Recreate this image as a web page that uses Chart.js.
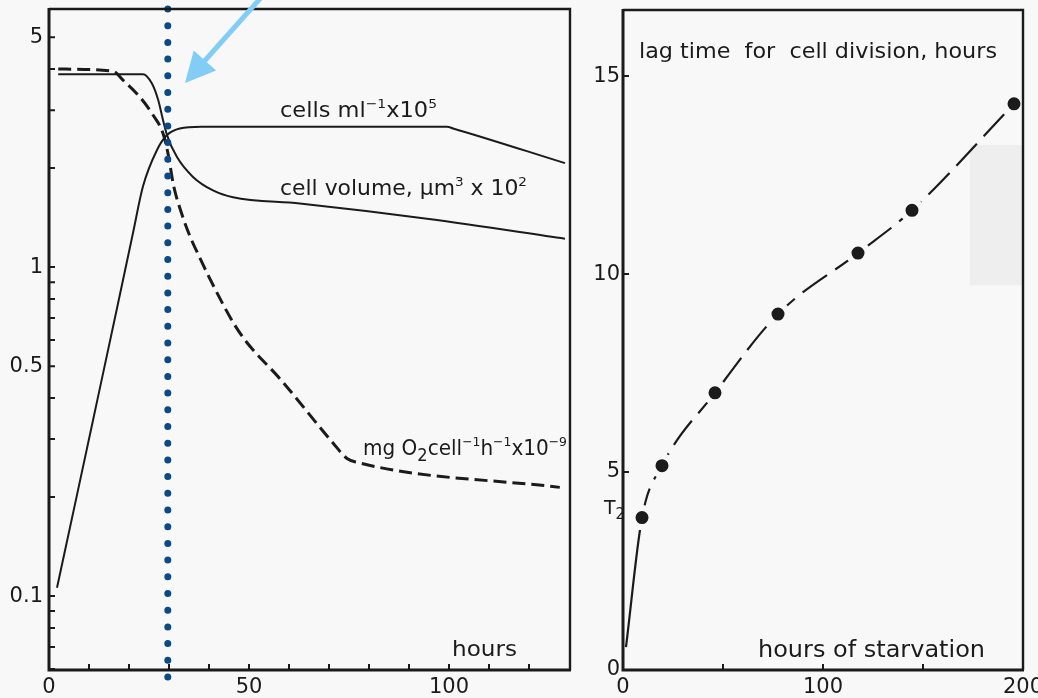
<!DOCTYPE html>
<html><head><meta charset="utf-8">
<script src="https://cdn.jsdelivr.net/npm/chart.js@4.4.1/dist/chart.umd.min.js"></script>
<style>
html,body{margin:0;padding:0;overflow:hidden;background:#f8f8f8;width:1038px;height:698px;}
#left{position:absolute;left:0;top:0;}
#right{position:absolute;left:585px;top:0;}
</style></head><body>
<canvas id="left" width="590" height="698"></canvas>
<canvas id="right" width="493" height="698"></canvas>
<script>
// ===== Left panel data (hours, logarithmic values) =====
const cellsHours   = [2, 7, 12, 17, 21, 23.5, 27, 29.5, 32.7, 38, 99.5, 101, 129];
const cellsValues  = [0.106, 0.203, 0.39, 0.75, 1.27, 1.76, 2.27, 2.52, 2.64, 2.67, 2.67, 2.64, 2.07];
const volumeHours  = [2.3, 23.5, 25.7, 27.3, 28.5, 29.5, 32, 36, 41, 46, 62.7, 95, 129];
const volumeValues = [3.86, 3.86, 3.62, 3.22, 2.8, 2.52, 2.16, 1.88, 1.71, 1.63, 1.56, 1.40, 1.22];
const o2Hours      = [2.3, 16, 18.5, 22.7, 26, 28.5, 29.8, 31.1, 33.2, 35.5, 37.5, 39.5, 46, 49, 58, 71, 74.5, 77, 127.7];
const o2Values     = [4.0, 3.94, 3.7, 3.29, 2.9, 2.55, 2.2, 1.78, 1.45, 1.22, 1.08, 0.96, 0.68, 0.6, 0.454, 0.292, 0.262, 0.255, 0.214];
const markerHour   = 29.7;

// ===== Right panel data =====
const starvationHours = [9.5, 19.5, 46, 77.5, 117.5, 144.5, 195.5];
const lagTimes        = [3.85, 5.16, 7.0, 8.99, 10.53, 11.61, 14.3];
const curveStartHour  = 1.5;
const curveStartLag   = 0.58;

// ===== Axis ranges and ticks =====
const leftXMin = 0, leftXMax = 130.25;
const leftYMin = 0.0596, leftYMax = 6.09;
const leftXTickLabels = [0, 50, 100];
const leftXTickMarks  = [10, 20, 30, 40, 50, 60, 70, 80, 90, 100, 110, 120];
const leftYTickMarks  = [0.06, 0.07, 0.08, 0.09, 0.1, 0.2, 0.3, 0.4, 0.5, 0.6, 0.7, 0.8, 0.9, 1, 2, 3, 4, 5];
const leftYTickLabels = [0.1, 0.5, 1, 5];
const rightXMin = 0, rightXMax = 200;
const rightYMin = 0, rightYMax = 16.67;
const rightXTickLabels = [0, 100, 200];
const rightXTickMarks  = [50, 100, 150];
const rightYTickLabels = [0, 5, 10, 15];
const rightYTickMarks  = [5, 10, 15];

const INK = '#1b1b1b';
const BG = '#f8f8f8';
const FONT = 'DejaVu Sans';
Chart.defaults.font.family = FONT;
Chart.defaults.color = INK;

const pts = (xs, ys) => xs.map((x, i) => ({x, y: ys[i]}));
const noPad = s => { s.paddingTop = 0; s.paddingBottom = 0; s.paddingLeft = 0; s.paddingRight = 0; };

function drawRich(ctx, x, y, parts, size, width) {
  ctx.save();
  const fontFor = p => `${Math.round(size * (p.s ? (p.k || 0.62) : 1))}px "${FONT}"`;
  let total = 0;
  parts.forEach(p => { ctx.font = fontFor(p); total += ctx.measureText(p.t).width; });
  const sx = width ? width / total : 1;
  ctx.translate(x, y);
  ctx.scale(sx, 1);
  ctx.fillStyle = INK;
  ctx.textBaseline = 'alphabetic';
  ctx.textAlign = 'left';
  let cx = 0;
  parts.forEach(p => {
    ctx.font = fontFor(p);
    const dy = p.s === 'sup' ? -size * 0.45 : (p.s === 'sub' ? size * 0.28 : 0);
    ctx.fillText(p.t, cx, dy);
    cx += ctx.measureText(p.t).width;
  });
  ctx.restore();
}

function framePlugin(cfg) {
  return {
    id: 'frame_' + cfg.name,
    beforeDatasetsDraw(chart) {
      if (!cfg.shade) return;
      const {ctx, scales} = chart;
      const s = cfg.shade;
      const x0 = scales.x.getPixelForValue(s.x0), x1 = scales.x.getPixelForValue(s.x1);
      const y0 = scales.y.getPixelForValue(s.y0), y1 = scales.y.getPixelForValue(s.y1);
      ctx.save(); ctx.fillStyle = '#eeeeee'; ctx.fillRect(x0, y1, x1 - x0, y0 - y1); ctx.restore();
    },
    afterDraw(chart) {
      const {ctx, chartArea: a, scales} = chart;
      ctx.save();
      ctx.strokeStyle = INK;
      ctx.lineCap = 'butt';
      ctx.lineWidth = 2;
      ctx.beginPath();
      cfg.xMarks.forEach(v => { const px = scales.x.getPixelForValue(v); ctx.moveTo(px, a.bottom); ctx.lineTo(px, a.bottom - 6); });
      cfg.yMarks.forEach(v => { const py = scales.y.getPixelForValue(v); ctx.moveTo(a.left, py); ctx.lineTo(a.left + 6, py); });
      ctx.stroke();
      // frame
      ctx.lineWidth = 2.4;
      ctx.beginPath();
      ctx.moveTo(a.left, a.top); ctx.lineTo(a.right, a.top); ctx.lineTo(a.right, a.bottom);
      ctx.stroke();
      ctx.lineWidth = 3;
      ctx.beginPath();
      ctx.moveTo(a.left, a.top - 1); ctx.lineTo(a.left, a.bottom); ctx.lineTo(a.right + 1, a.bottom);
      ctx.stroke();
      // texts
      cfg.texts.forEach(tx => {
        const px = scales.x.getPixelForValue(tx.x);
        const py = scales.y.getPixelForValue(tx.y);
        drawRich(ctx, px, py, tx.parts, tx.size, tx.width);
      });
      // arrow
      if (cfg.arrow) {
        const ar = cfg.arrow;
        const tx = scales.x.getPixelForValue(ar.tipX), ty = scales.y.getPixelForValue(ar.tipY);
        const sx = scales.x.getPixelForValue(ar.tailX), sy = scales.y.getPixelForValue(ar.tailY);
        const dx = tx - sx, dy = ty - sy, L = Math.hypot(dx, dy);
        const ux = dx / L, uy = dy / L;
        const hl = 30, hw = 15;
        const bx = tx - ux * hl, by = ty - uy * hl;
        ctx.strokeStyle = '#82cdf6';
        ctx.fillStyle = '#82cdf6';
        ctx.lineWidth = 5;
        ctx.beginPath(); ctx.moveTo(sx, sy); ctx.lineTo(bx + ux * 2, by + uy * 2); ctx.stroke();
        ctx.beginPath();
        ctx.moveTo(tx, ty);
        ctx.lineTo(bx - uy * hw, by + ux * hw);
        ctx.lineTo(bx + uy * hw, by - ux * hw);
        ctx.closePath(); ctx.fill();
      }
      ctx.restore();
    }
  };
}

// ===== Left chart =====
new Chart(document.getElementById('left'), {
  type: 'line',
  data: {
    datasets: [
      { label: 'marker', data: [{x: markerHour, y: leftYMax}, {x: markerHour, y: leftYMin * 0.94}],
        borderColor: '#0b4a87', borderWidth: 7, borderDash: [0, 16.7], borderCapStyle: 'round',
        pointRadius: 0, clip: false, order: -1 },
      { label: 'cells ml-1 x10^5', data: pts(cellsHours, cellsValues), borderColor: INK, borderWidth: 2,
        pointRadius: 0, cubicInterpolationMode: 'monotone', fill: false },
      { label: 'cell volume', data: pts(volumeHours, volumeValues), borderColor: INK, borderWidth: 2,
        pointRadius: 0, cubicInterpolationMode: 'monotone', fill: false },
      { label: 'mg O2', data: pts(o2Hours, o2Values), borderColor: INK, borderWidth: 3, borderDash: [13, 6],
        pointRadius: 0, cubicInterpolationMode: 'monotone', fill: false }
    ]
  },
  options: {
    responsive: false, animation: false, events: [],
    layout: { autoPadding: false, padding: { top: 9, right: 20, left: 0, bottom: 0 } },
    plugins: { legend: { display: false }, tooltip: { enabled: false } },
    scales: {
      x: { type: 'linear', min: leftXMin, max: leftXMax,
           grid: { display: false, drawTicks: false }, border: { display: false },
           ticks: { padding: 5, font: { size: 21 }, color: INK, maxRotation: 0, autoSkip: false },
           afterBuildTicks: s => { s.ticks = leftXTickLabels.map(v => ({ value: v })); },
           afterFit: s => { s.height = 28; noPad(s); } },
      y: { type: 'logarithmic', min: leftYMin, max: leftYMax,
           grid: { display: false, drawTicks: false }, border: { display: false },
           ticks: { padding: 6, font: { size: 21 }, color: INK, autoSkip: false,
                    callback: v => leftYTickLabels.includes(v) ? String(v) : '' },
           afterBuildTicks: s => { s.ticks = leftYTickMarks.map(v => ({ value: v })); },
           afterFit: s => { s.width = 49; noPad(s); } }
    }
  },
  plugins: [framePlugin({
    name: 'L', xMarks: leftXTickMarks, yMarks: leftYTickMarks,
    arrow: { tipX: 34, tipY: 3.63, tailX: 53.5, tailY: 6.7 },
    texts: [
      { x: 57.75, y: 2.86, size: 21, width: 157, parts: [{t: 'cells ml'}, {t: '−1', s: 'sup'}, {t: 'x10'}, {t: '5', s: 'sup'}] },
      { x: 57.75, y: 1.655, size: 21, width: 247, parts: [{t: 'cell volume, µm'}, {t: '3', s: 'sup'}, {t: ' x 10'}, {t: '2', s: 'sup'}] },
      { x: 78.5, y: 0.268, size: 21, width: 204, parts: [{t: 'mg O'}, {t: '2', s: 'sub', k: 0.8}, {t: 'cell'}, {t: '−1', s: 'sup'}, {t: 'h'}, {t: '−1', s: 'sup'}, {t: 'x10'}, {t: '−9', s: 'sup'}] },
      { x: 100.75, y: 0.0657, size: 22, width: 65, parts: [{t: 'hours'}] }
    ]
  })]
});

// ===== Right chart =====
new Chart(document.getElementById('right'), {
  type: 'line',
  data: {
    datasets: [
      { label: 'lag points', data: pts(starvationHours, lagTimes), showLine: false,
        pointRadius: 9.5, pointBackgroundColor: INK, pointBorderColor: BG, pointBorderWidth: 6, order: -1 },
      { label: 'lag curve', data: [{x: curveStartHour, y: curveStartLag}].concat(pts(starvationHours, lagTimes)),
        borderColor: INK, borderWidth: 2.2, pointRadius: 0, cubicInterpolationMode: 'monotone', fill: false,
        segment: { borderDash: c => c.p0DataIndex === 0 ? [] : [30, 10] } }
    ]
  },
  options: {
    responsive: false, animation: false, events: [],
    layout: { autoPadding: false, padding: { top: 10, right: 55, left: 0, bottom: 0 } },
    plugins: { legend: { display: false }, tooltip: { enabled: false } },
    scales: {
      x: { type: 'linear', min: rightXMin, max: rightXMax,
           grid: { display: false, drawTicks: false }, border: { display: false },
           ticks: { padding: 5, font: { size: 21 }, color: INK, maxRotation: 0, autoSkip: false },
           afterBuildTicks: s => { s.ticks = rightXTickLabels.map(v => ({ value: v })); },
           afterFit: s => { s.height = 28; noPad(s); } },
      y: { type: 'linear', min: rightYMin, max: rightYMax,
           grid: { display: false, drawTicks: false }, border: { display: false },
           ticks: { padding: 3, font: { size: 21 }, color: INK, autoSkip: false },
           afterBuildTicks: s => { s.ticks = rightYTickLabels.map(v => ({ value: v })); },
           afterFit: s => { s.width = 38; noPad(s); } }
    }
  },
  plugins: [framePlugin({
    name: 'R', xMarks: rightXTickMarks, yMarks: rightYTickMarks,
    shade: { x0: 173.5, x1: 199.5, y0: 9.72, y1: 13.26 },
    texts: [
      { x: 8, y: 15.45, size: 22, width: 358, parts: [{t: 'lag time  for  cell division, hours'}] },
      { x: 67.5, y: 0.33, size: 23, width: 227, parts: [{t: 'hours of starvation'}] },
      { x: -9.5, y: 3.95, size: 19, parts: [{t: 'T'}, {t: '2', s: 'sub', k: 0.8}] }
    ]
  })]
});
</script>
</body></html>
